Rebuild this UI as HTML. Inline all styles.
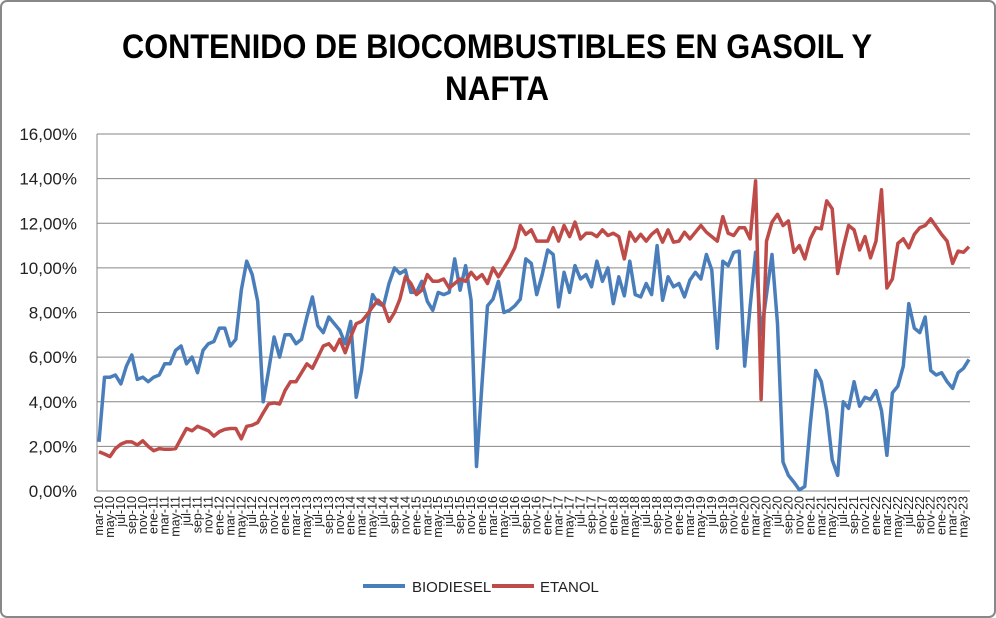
<!DOCTYPE html>
<html><head><meta charset="utf-8"><style>
html,body{margin:0;padding:0;background:#fff;}
svg{display:block;font-family:"Liberation Sans",sans-serif;}
</style></head><body>
<svg id="chart" width="996" height="618" viewBox="0 0 996 618">
<rect x="1" y="1" width="994" height="616" rx="6" fill="#fff" stroke="#888" stroke-width="2"/>
<text x="497" y="58" text-anchor="middle" font-weight="bold" font-size="34" textLength="750" lengthAdjust="spacingAndGlyphs">CONTENIDO DE BIOCOMBUSTIBLES EN GASOIL Y</text>
<text x="497" y="100" text-anchor="middle" font-weight="bold" font-size="34" textLength="104" lengthAdjust="spacingAndGlyphs">NAFTA</text>
<g id="grid"></g><g id="yt"></g><g id="xt"></g><g id="series"></g>
<g>
<line x1="363" y1="586" x2="405" y2="586" stroke="#4a7ebb" stroke-width="4"/>
<text x="412" y="592" font-size="15" fill="#222">BIODIESEL</text>
<line x1="492" y1="586" x2="534" y2="586" stroke="#be4b48" stroke-width="4"/>
<text x="540" y="592" font-size="15" fill="#222">ETANOL</text>
</g>
</svg>
<script>
const biodiesel=[2.2,5.1,5.1,5.2,4.8,5.6,6.1,5.0,5.1,4.9,5.1,5.2,5.7,5.7,6.3,6.5,5.7,6.0,5.3,6.3,6.6,6.7,7.3,7.3,6.5,6.8,9.0,10.3,9.7,8.5,4.0,5.4,6.9,6.0,7.0,7.0,6.6,6.8,7.8,8.7,7.4,7.1,
7.8,7.5,7.2,6.6,7.6,4.2,5.4,7.4,8.8,8.4,8.3,9.3,10.0,9.75,9.9,8.9,8.9,9.4,8.5,8.1,8.9,8.8,8.9,10.4,9.0,10.1,8.55,1.1,4.8,8.3,8.6,9.4,8.0,8.1,8.3,8.6,10.4,10.2,8.8,
9.7,10.8,10.6,8.25,9.8,8.9,10.1,9.5,9.7,9.15,10.3,9.4,10.0,8.4,9.6,8.75,10.3,8.8,8.7,9.3,8.8,11.0,8.55,9.6,9.15,9.3,8.7,9.45,9.8,9.5,10.6,9.9,6.4,10.3,10.1,10.7,10.75,5.6,8.25,10.7,
7.0,8.8,10.6,7.5,1.3,0.7,0.4,0.05,0.2,3.0,5.4,4.9,3.6,1.4,0.7,4.0,3.7,4.9,3.8,4.2,4.1,4.5,3.6,1.6,4.4,4.7,5.6,8.4,7.3,7.1,7.8,5.4,5.2,5.3,4.9,4.6,5.3,5.5,5.9];
const etanol=[1.76,1.66,1.54,1.9,2.1,2.2,2.2,2.06,2.25,2.0,1.8,1.9,1.87,1.87,1.9,2.36,2.8,2.7,2.9,2.8,2.7,2.46,2.66,2.76,2.8,2.8,2.34,2.9,2.95,3.07,3.5,3.9,3.95,3.9,4.5,4.9,4.9,5.3,5.7,5.5,6.0,6.5,
6.6,6.3,6.8,6.2,6.9,7.5,7.6,7.9,8.25,8.55,8.3,7.6,8.0,8.6,9.6,9.3,8.8,9.0,9.7,9.4,9.4,9.5,9.1,9.3,9.5,9.4,9.8,9.5,9.7,9.3,10.0,9.6,10.0,10.4,10.9,11.9,11.5,11.7,11.2,
11.2,11.2,11.8,11.2,11.9,11.4,12.05,11.3,11.55,11.55,11.4,11.7,11.45,11.55,11.4,10.4,11.6,11.2,11.5,11.2,11.5,11.7,11.15,11.7,11.15,11.2,11.6,11.3,11.6,11.9,11.6,11.4,11.2,12.3,11.55,11.45,11.8,11.8,11.3,13.9,
4.1,11.2,12.05,12.4,11.9,12.1,10.7,11.0,10.4,11.3,11.8,11.75,13.0,12.65,9.75,10.9,11.9,11.7,10.8,11.4,10.45,11.2,13.5,9.1,9.5,11.1,11.3,10.9,11.5,11.8,11.9,12.2,11.85,11.5,11.2,10.2,10.75,10.7,10.95];
const yTicks=[0,2,4,6,8,10,12,14,16];
const monthNames=["ene","feb","mar","abr","may","jun","jul","ago","sep","oct","nov","dic"];
const NS="http://www.w3.org/2000/svg";
const X0=99,X1=969,Y0=491,Y1=134,N=biodiesel.length;
function xs(i){return X0+i*(X1-X0)/(N-1);}
function ys(v){return Y0-(v/16)*(Y0-Y1);}
function mk(t,a,p){const e=document.createElementNS(NS,t);for(const k in a)e.setAttribute(k,a[k]);p.appendChild(e);return e;}
const grid=document.getElementById('grid'),yt=document.getElementById('yt'),xt=document.getElementById('xt'),ser=document.getElementById('series');
yTicks.forEach(v=>{
 const l=mk('line',{x1:97,x2:970,y1:ys(v),y2:ys(v),stroke:'#868686','stroke-width':1},grid);
 
 
 const t=mk('text',{x:77,y:ys(v)+6,'text-anchor':'end','font-size':17,fill:'#222'},yt);
 t.textContent=v.toFixed(2).replace('.',',')+'%';
 
 
});
mk('line',{x1:97,x2:97,y1:Y1,y2:Y0,stroke:'#868686','stroke-width':1},grid);
for(let i=0;i<N;i+=2){
 const m=(2+i)%12, yr=10+Math.floor((2+i)/12);
 const lab=monthNames[m]+'-'+yr;
 const xx=xs(i)+4;
 const t=mk('text',{x:0,y:0,transform:'translate('+xx+',496) rotate(-90)','text-anchor':'end','font-size':12.5,fill:'#222'},xt);
 t.textContent=lab;
 
 
}
function line(arr,color,name){
 const d=arr.map((v,i)=>(i?'L':'M')+xs(i).toFixed(1)+','+ys(v).toFixed(1)).join('');
 const p=mk('path',{d:d,fill:'none',stroke:color,'stroke-width':3.5,'stroke-linejoin':'round'},ser);
 
 
}
line(biodiesel,'#4a7ebb','biodiesel-line');
line(etanol,'#be4b48','etanol-line');
</script>
</body></html>
